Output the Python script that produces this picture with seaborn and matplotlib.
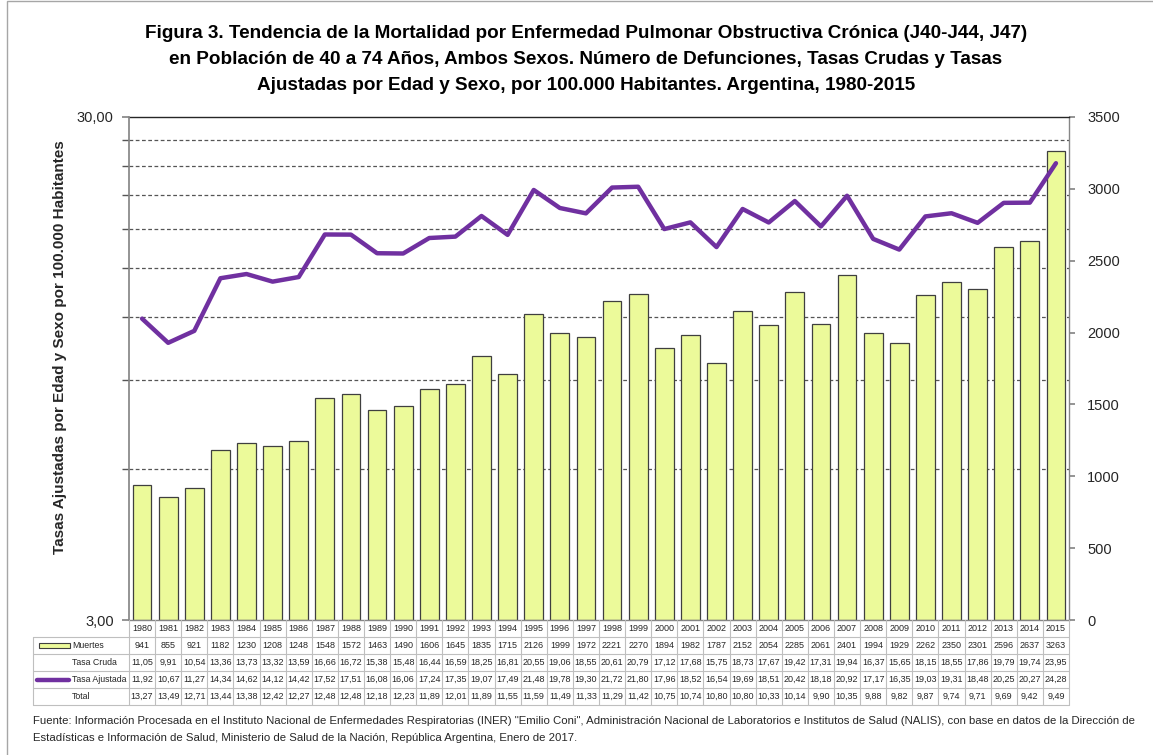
import numpy as np
import pandas as pd
import seaborn as sns
import matplotlib.pyplot as plt
from matplotlib.patches import Rectangle
from matplotlib.lines import Line2D
from matplotlib.ticker import FixedLocator, NullFormatter, FuncFormatter
from matplotlib.transforms import blended_transform_factory

anios = [1980, 1981, 1982, 1983, 1984, 1985, 1986, 1987, 1988, 1989, 1990, 1991,
         1992, 1993, 1994, 1995, 1996, 1997, 1998, 1999, 2000, 2001, 2002, 2003,
         2004, 2005, 2006, 2007, 2008, 2009, 2010, 2011, 2012, 2013, 2014, 2015]
muertes = [941, 855, 921, 1182, 1230, 1208, 1248, 1548, 1572, 1463, 1490, 1606,
           1645, 1835, 1715, 2126, 1999, 1972, 2221, 2270, 1894, 1982, 1787, 2152,
           2054, 2285, 2061, 2401, 1994, 1929, 2262, 2350, 2301, 2596, 2637, 3263]
tasa_cruda = [11.05, 9.91, 10.54, 13.36, 13.73, 13.32, 13.59, 16.66, 16.72, 15.38,
              15.48, 16.44, 16.59, 18.25, 16.81, 20.55, 19.06, 18.55, 20.61, 20.79,
              17.12, 17.68, 15.75, 18.73, 17.67, 19.42, 17.31, 19.94, 16.37, 15.65,
              18.15, 18.55, 17.86, 19.79, 19.74, 23.95]
tasa_ajustada = [11.92, 10.67, 11.27, 14.34, 14.62, 14.12, 14.42, 17.52, 17.51, 16.08,
                 16.06, 17.24, 17.35, 19.07, 17.49, 21.48, 19.78, 19.30, 21.72, 21.80,
                 17.96, 18.52, 16.54, 19.69, 18.51, 20.42, 18.18, 20.92, 17.17, 16.35,
                 19.03, 19.31, 18.48, 20.25, 20.27, 24.28]
total = [13.27, 13.49, 12.71, 13.44, 13.38, 12.42, 12.27, 12.48, 12.48, 12.18, 12.23,
         11.89, 12.01, 11.89, 11.55, 11.59, 11.49, 11.33, 11.29, 11.42, 10.75, 10.74,
         10.80, 10.80, 10.33, 10.14, 9.90, 10.35, 9.88, 9.82, 9.87, 9.74, 9.71, 9.69,
         9.42, 9.49]

ticks_derecha = [0, 500, 1000, 1500, 2000, 2500, 3000, 3500]
ticks_izquierda = [3, 30]
rejilla = [6, 9, 12, 15, 18, 21, 24, 27]

titulo = [
    "Figura 3. Tendencia de la Mortalidad por Enfermedad Pulmonar Obstructiva Crónica (J40-J44, J47)",
    "en Población de 40 a 74 Años, Ambos Sexos. Número de Defunciones, Tasas Crudas y Tasas",
    "Ajustadas por Edad y Sexo, por 100.000 Habitantes. Argentina, 1980-2015",
]
fuente = [
    "Fuente: Información Procesada en el Instituto Nacional de Enfermedades Respiratorias (INER) \"Emilio Coni\", "
    "Administración Nacional de Laboratorios e Institutos de Salud (NALIS), con base en datos de la Dirección de",
    "Estadísticas e Información de Salud, Ministerio de Salud de la Nación, República Argentina, Enero de 2017.",
]
etiqueta_y = "Tasas Ajustadas por Edad y Sexo por 100.000 Habitantes"

COLOR_BARRA = "#ECFA9A"
COLOR_BORDE = "#3F3F3F"
COLOR_LINEA = "#7030A0"
COLOR_TABLA = "#BFBFBF"
COLOR_EJE = "#868686"
W, H = 1153, 755


def coma(valor):
    return f"{valor:.2f}".replace(".", ",")


def fx(px):
    return px / W


def fy(py):
    return 1 - py / H


def dibujar_tabla(fig, ax):
    """Tabla de datos debajo del grafico, como en Excel."""
    tr = blended_transform_factory(ax.transData, fig.transFigure)
    filas = [620, 637, 654, 671, 688, 705]
    n = len(anios)

    # lineas verticales entre columnas
    for i in range(n + 1):
        fig.add_artist(Line2D([i - 0.5, i - 0.5], [fy(620), fy(705)], transform=tr,
                              color=COLOR_TABLA, lw=0.8))
    # columna de encabezados
    fig.add_artist(Line2D([fx(33), fx(33)], [fy(637), fy(705)], color=COLOR_TABLA, lw=0.8))
    x_fin = ax.transAxes.transform((1, 0))[0] / W
    for yp in filas[1:]:
        fig.add_artist(Line2D([fx(33), x_fin], [fy(yp), fy(yp)], color=COLOR_TABLA, lw=0.8))

    centros = [(a + b) / 2 for a, b in zip(filas[:-1], filas[1:])]
    filas_texto = [
        [str(a) for a in anios],
        [str(m) for m in muertes],
        [coma(v) for v in tasa_cruda],
        [coma(v) for v in tasa_ajustada],
        [coma(v) for v in total],
    ]
    for yc, valores in zip(centros, filas_texto):
        for i, txt in enumerate(valores):
            fig.text(i, fy(yc), txt, transform=tr, ha="center", va="center",
                     fontsize=6.5, color="#262626")

    nombres = ["Muertes", "Tasa Cruda", "Tasa Ajustada", "Total"]
    for yc, nombre in zip(centros[1:], nombres):
        fig.text(fx(72), fy(yc), nombre, ha="left", va="center", fontsize=6.3,
                 color="#262626")

    # claves de leyenda
    fig.add_artist(Rectangle((fx(39), fy(648)), fx(31), 5 / H, facecolor=COLOR_BARRA,
                             edgecolor=COLOR_BORDE, lw=0.8))
    fig.add_artist(Line2D([fx(37), fx(69)], [fy(centros[3]), fy(centros[3])],
                          color=COLOR_LINEA, lw=3.2, solid_capstyle="round"))


def main():
    sns.set_theme(style="white")
    plt.rcParams["font.family"] = ["Liberation Sans", "DejaVu Sans"]

    fig = plt.figure(figsize=(11.53, 7.55), dpi=100)
    ax = fig.add_axes([fx(129), fy(620), fx(940), 503 / H])

    df = pd.DataFrame({"Año": [str(a) for a in anios], "Muertes": muertes})
    sns.barplot(data=df, x="Año", y="Muertes", color=COLOR_BARRA, saturation=1,
                width=0.72, edgecolor=COLOR_BORDE, linewidth=0.9, ax=ax, zorder=2)

    # eje izquierdo: tasa ajustada en escala logaritmica
    axl = ax.twinx()
    sns.lineplot(x=np.arange(len(anios)), y=tasa_ajustada, color=COLOR_LINEA, lw=3.2,
                 solid_capstyle="round", solid_joinstyle="round", ax=axl)
    axl.set_yscale("log")
    axl.set_ylim(3, 30)
    axl.yaxis.tick_left()
    axl.yaxis.set_label_position("left")
    axl.yaxis.set_major_locator(FixedLocator(ticks_izquierda))
    axl.yaxis.set_major_formatter(FuncFormatter(lambda v, p: coma(v)))
    axl.yaxis.set_minor_locator(FixedLocator(rejilla))
    axl.yaxis.set_minor_formatter(NullFormatter())
    axl.tick_params(axis="y", which="both", left=True, right=False, labelleft=True,
                    labelright=False, length=5, direction="out", pad=6, labelsize=10.5,
                    color=COLOR_EJE, labelcolor="#262626")
    axl.tick_params(axis="y", which="minor", color="#555555")
    for nombre, s in axl.spines.items():
        s.set_visible(nombre == "left")
    axl.spines["left"].set_color(COLOR_EJE)
    axl.set_ylabel(etiqueta_y, fontsize=11, fontweight="bold", color="#262626")
    axl.yaxis.set_label_coords(-0.066, 0.543)

    # eje derecho: numero de defunciones (despues de twinx)
    ax.set_ylim(0, 3500)
    ax.set_xlim(-0.5, len(anios) - 0.5)
    ax.set_yticks(ticks_derecha)
    ax.set_xticks([])
    ax.set_xlabel("")
    ax.set_ylabel("")
    ax.yaxis.tick_right()
    ax.tick_params(axis="y", right=True, left=False, labelright=True, labelleft=False,
                   length=4, direction="out", pad=9, labelsize=10.5, color=COLOR_EJE,
                   labelcolor="#262626")
    ax.spines["left"].set_visible(False)
    ax.spines["right"].set_color(COLOR_EJE)
    ax.spines["bottom"].set_color(COLOR_EJE)
    ax.spines["top"].set_color("#262626")
    for s in ax.spines.values():
        s.set_linewidth(1)

    # rejilla punteada detras de las barras
    tr = blended_transform_factory(ax.transAxes, axl.transData)
    for v in rejilla:
        ax.plot([0, 1], [v, v], transform=tr, color="#555555", lw=0.9,
                linestyle=(0, (3, 2)), zorder=0.5)

    dibujar_tabla(fig, ax)

    # titulo y fuente
    for yp, linea in zip([33, 59, 85], titulo):
        fig.text(0.508, fy(yp), linea, ha="center", va="center", fontsize=13.6,
                 fontweight="bold", color="black")
    for yp, linea in zip([721, 738], fuente):
        fig.text(fx(33), fy(yp), linea, ha="left", va="center", fontsize=8.2, color="#262626")

    # marco del grafico
    fig.add_artist(Rectangle((fx(7), -0.1), 1.2, 1.1 - 1 / H, fill=False,
                             edgecolor="#A6A6A6", lw=1))

    fig.savefig("out.png", dpi=100)
    plt.close(fig)


if __name__ == "__main__":
    main()
